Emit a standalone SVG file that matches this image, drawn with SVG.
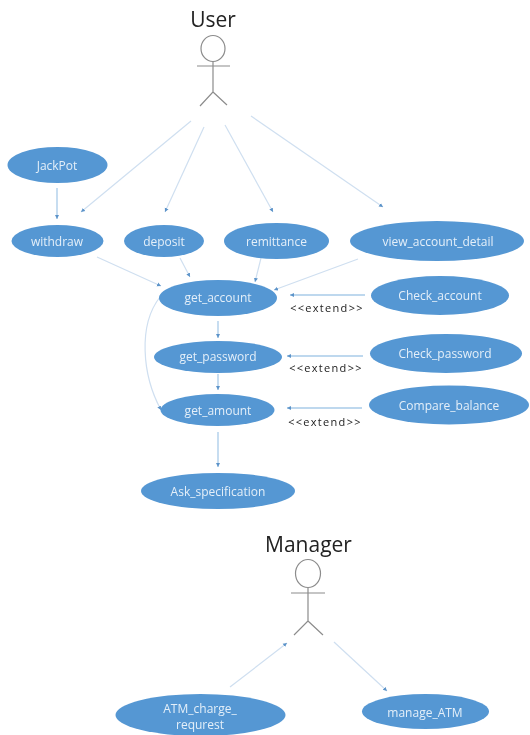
<svg xmlns="http://www.w3.org/2000/svg" width="530" height="735" viewBox="0 0 530 735">
<defs>
<marker id="arrow" markerUnits="userSpaceOnUse" markerWidth="6" markerHeight="6" refX="4" refY="2.500" orient="auto"><path d="M0,0.500 L4,2.500 L0,4.500 Z" fill="#5b93c9"/></marker>
<filter id="soft" x="0" y="0" width="100%" height="100%"><feGaussianBlur stdDeviation="0.4"/></filter>
</defs>
<style>
.uc{fill:#5597d3}
.ut{fill:#e4eff9;font-family:"Open Sans","Noto Sans",sans-serif;font-size:12px;text-anchor:middle}
.actor{fill:#222;font-family:"Open Sans","Noto Sans",sans-serif;font-size:21px;text-anchor:middle}
.fig{fill:#fff;stroke:#8c8c8c;stroke-width:1.200}
.lim{fill:none;stroke:#8c8c8c;stroke-width:1.200}
.c{fill:none;stroke:#cfdff0;stroke-width:1.200;marker-end:url(#arrow)}
.d{fill:none;stroke:#a9cbe9;stroke-width:1.300;marker-end:url(#arrow)}
.ex{fill:#222;font-family:"Open Sans","Noto Sans",sans-serif;font-size:11px;text-anchor:middle;letter-spacing:1.300px}
</style>
<rect width="530" height="735" fill="#fff"/>
<g id="diagram" filter="url(#soft)">
<g id="connectors">
<path class="c" d="M191,121 L81,212"/>
<path class="c" d="M204,127 L165,212"/>
<path class="c" d="M225,125 L273,212"/>
<path class="c" d="M251,116 L383,207"/>
<path class="d" d="M57,188 L57,219"/>
<path class="c" d="M97,257 L161,286"/>
<path class="c" d="M180,258 L190,277"/>
<path class="c" d="M261,258 L255,282"/>
<path class="c" d="M358,259 L274,290"/>
<path class="c" d="M160,297 C138,325 142,375 161,410"/>
<path class="d" d="M218,321 L218,338"/>
<path class="d" d="M218,374 L218,390"/>
<path class="d" d="M218,432 L218,467"/>
<path class="d" d="M365,295 L290,295"/>
<path class="d" d="M363,356 L287,356"/>
<path class="d" d="M362,408 L287,408"/>
<path class="c" d="M230,687 L287,643"/>
<path class="c" d="M334,642 L387,691"/>
</g>
<g id="user">
<text class="actor" x="213" y="27">User</text>
<ellipse class="fig" cx="213" cy="48.500" rx="12" ry="13"/>
<path class="lim" d="M197,66 H230 M213,61.500 V92 L200,106 M213,92 L227,105"/>
</g>
<g id="manager">
<text class="actor" x="308.500" y="552">Manager</text>
<ellipse class="fig" cx="308" cy="573.500" rx="12.500" ry="14"/>
<path class="lim" d="M291,593 H325 M308,588 V621 L294,635 M308,621 L323,635"/>
</g>
<g id="jackpot"><ellipse class="uc" cx="57.500" cy="165" rx="50" ry="18"/><text class="ut" x="57" y="170">JackPot</text></g>
<g id="withdraw"><ellipse class="uc" cx="57.500" cy="241" rx="46" ry="16"/><text class="ut" x="57" y="246">withdraw</text></g>
<g id="deposit"><ellipse class="uc" cx="164" cy="241" rx="40" ry="16"/><text class="ut" x="164" y="246">deposit</text></g>
<g id="remittance"><ellipse class="uc" cx="276.500" cy="241" rx="52.500" ry="18"/><text class="ut" x="276.500" y="246">remittance</text></g>
<g id="view_account_detail"><ellipse class="uc" cx="437" cy="241" rx="87" ry="20"/><text class="ut" x="438" y="246">view_account_detail</text></g>
<g id="get_account"><ellipse class="uc" cx="218" cy="298" rx="59" ry="18"/><text class="ut" x="218" y="302">get_account</text></g>
<g id="check_account"><ellipse class="uc" cx="440" cy="295.500" rx="69" ry="19.500"/><text class="ut" x="440" y="300">Check_account</text></g>
<g id="get_password"><ellipse class="uc" cx="218" cy="357" rx="64" ry="16"/><text class="ut" x="218" y="361">get_password</text></g>
<g id="check_password"><ellipse class="uc" cx="446" cy="353.500" rx="76" ry="19.500"/><text class="ut" x="445" y="358">Check_password</text></g>
<g id="get_amount"><ellipse class="uc" cx="217.500" cy="410" rx="57" ry="16"/><text class="ut" x="218" y="415">get_amount</text></g>
<g id="compare_balance"><ellipse class="uc" cx="449" cy="405" rx="80" ry="19.500"/><text class="ut" x="449" y="410">Compare_balance</text></g>
<g id="ask_specification"><ellipse class="uc" cx="218" cy="491" rx="77" ry="18"/><text class="ut" x="218" y="496">Ask_specification</text></g>
<g id="atm_charge"><ellipse class="uc" cx="200.500" cy="715" rx="85" ry="21"/><text class="ut" x="200" y="713">ATM_charge_</text><text class="ut" x="200" y="729">requrest</text></g>
<g id="manage_atm"><ellipse class="uc" cx="425.500" cy="711.500" rx="63.500" ry="17.500"/><text class="ut" x="425" y="717">manage_ATM</text></g>
<g id="labels">
<text class="ex" x="327" y="311.500">&lt;&lt;extend&gt;&gt;</text>
<text class="ex" x="326" y="372">&lt;&lt;extend&gt;&gt;</text>
<text class="ex" x="325" y="426">&lt;&lt;extend&gt;&gt;</text>
</g>
</g>
</svg>
